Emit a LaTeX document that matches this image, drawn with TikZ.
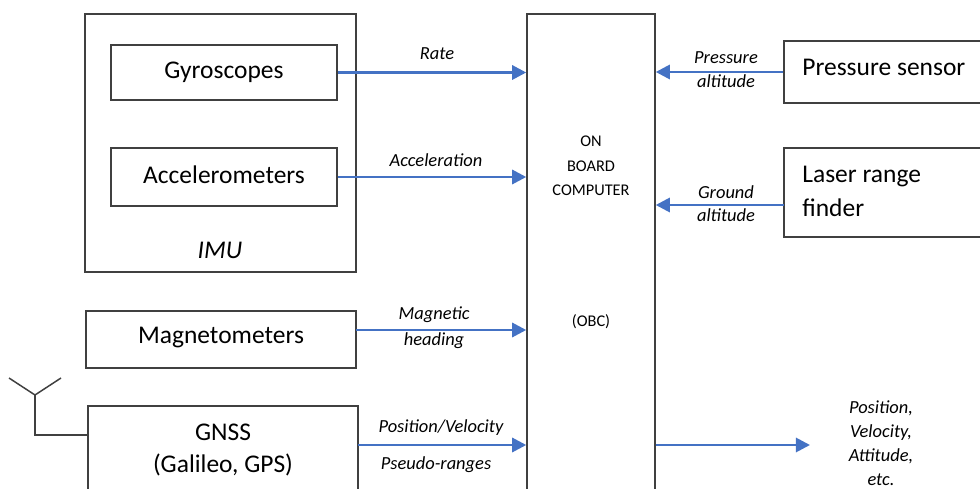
\documentclass[tikz,border=0pt]{standalone}
\usepackage{fontspec}
\setmainfont{Carlito}
\usepackage{tikz}
\usetikzlibrary{arrows.meta,positioning,calc}
\definecolor{flow}{HTML}{4472C4}
\definecolor{edge}{HTML}{404040}

\tikzset{
  blk/.style={draw=edge, line width=0.85pt, rectangle, inner sep=0pt},
  big/.style={font=\fontsize{14.5}{19}\selectfont},
  lbl/.style={font=\fontsize{10.5}{13}\selectfont\itshape, inner sep=0pt},
  obctxt/.style={font=\fontsize{9.3}{13.9}\selectfont, align=center, inner sep=0pt},
  sig/.style={flow, line width=1.6pt, -{Triangle[length=8pt,width=8pt]}},
}

\begin{document}
\begin{tikzpicture}[x=0.02cm, y=-0.02cm]
  \useasboundingbox (0,0) rectangle (980,489);
  \clip (0,0) rectangle (980,489);

  % sensor blocks on the left
  \node[blk, minimum width=5.42cm, minimum height=5.16cm] (imu) at (220.5,143) {};
  \node[blk, big, minimum width=4.52cm, minimum height=1.10cm] (gyro) at (224,72.5) {};
  \node[big, inner sep=0pt] (gyrotxt) at (224,72) {Gyroscopes};
  \node[blk, big, minimum width=4.52cm, minimum height=1.16cm] (accel) at (224,177) {};
  \node[big, inner sep=0pt] (acceltxt) at (224,175) {Accelerometers};
  \node[big, font=\fontsize{14.5}{19}\selectfont\itshape] (imutxt) at (220,250) {IMU};
  \node[blk, big, minimum width=5.40cm, minimum height=1.14cm] (magn) at (221,339.5) {};
  \node[big, inner sep=0pt] (magntxt) at (221,338) {Magnetometers};
  \node[blk, minimum width=5.40cm, minimum height=1.88cm] (gnss) at (223,453) {};
  \node[big, font=\fontsize{14.5}{18.2}\selectfont, align=center, inner sep=0pt] (gnsstxt) at (223,450) {GNSS\\(Galileo, GPS)};

  % antenna
  \coordinate (anttop) at (35,395);
  \coordinate (antl) at (9,378);
  \coordinate (antr) at (61,378);
  \coordinate (antfoot) at (35,435);
  \draw[edge, line width=0.85pt] (antl) -- (anttop) -- (antr);
  \draw[edge, line width=0.85pt] (anttop) -- (antfoot) -- (antfoot -| gnss.west);

  % on board computer
  \node[blk, minimum width=2.56cm, minimum height=10.12cm] (obc) at (591,267) {};
  \node[obctxt] (obcname) at (591,166) {ON\\BOARD\\COMPUTER};
  \node[obctxt] (obcabbr) at (591,322) {(OBC)};

  % sensor blocks on the right
  \node[blk, minimum width=4.12cm, minimum height=1.24cm] (press) at (887,72) {};
  \node[big, anchor=west, inner sep=0pt] (presstxt) at (802,67) {Pressure sensor};
  \node[blk, minimum width=4.12cm, minimum height=1.78cm] (laser) at (887,192.5) {};
  \node[big, font=\fontsize{14.5}{19.3}\selectfont, anchor=west, align=left, inner sep=0pt] (lasertxt) at (802,191) {Laser range\\finder};

  % signals into the OBC
  \draw[sig] (gyro.east) -- (gyro.east -| obc.west);
  \node[lbl] (rate) at (437,54) {Rate};
  \draw[sig] (accel.east) -- (accel.east -| obc.west);
  \node[lbl] (acc) at (436,160) {Acceleration};
  \coordinate (magout) at (356,330);
  \draw[sig] (magout) -- (magout -| obc.west);
  \node[lbl, align=center, font=\fontsize{10.5}{14.7}\selectfont\itshape] (head) at (434,328) {Magnetic\\heading};
  \coordinate (gnssout) at (358,445);
  \draw[sig] (gnssout) -- (gnssout -| obc.west);
  \node[lbl] (posvel) at (441,428) {Position/Velocity};
  \node[lbl] (pseudo) at (436,465) {Pseudo-ranges};

  \draw[sig] (press.west) -- (press.west -| obc.east);
  \node[lbl, align=center, font=\fontsize{10.5}{13.6}\selectfont\itshape] (palt) at (726,70) {Pressure\\altitude};
  \coordinate (laserout) at (784,205);
  \draw[sig] (laserout) -- (laserout -| obc.east);
  \node[lbl, align=center, font=\fontsize{10.5}{13.1}\selectfont\itshape] (galt) at (726,203.5) {Ground\\altitude};

  % output of the OBC
  \coordinate (outend) at (810,445);
  \draw[sig] (outend -| obc.east) -- (outend);
  \node[lbl, align=center, font=\fontsize{10.5}{13.6}\selectfont\itshape] (outtxt) at (881,443.5) {Position,\\Velocity,\\Attitude,\\etc.};
\end{tikzpicture}
\end{document}
